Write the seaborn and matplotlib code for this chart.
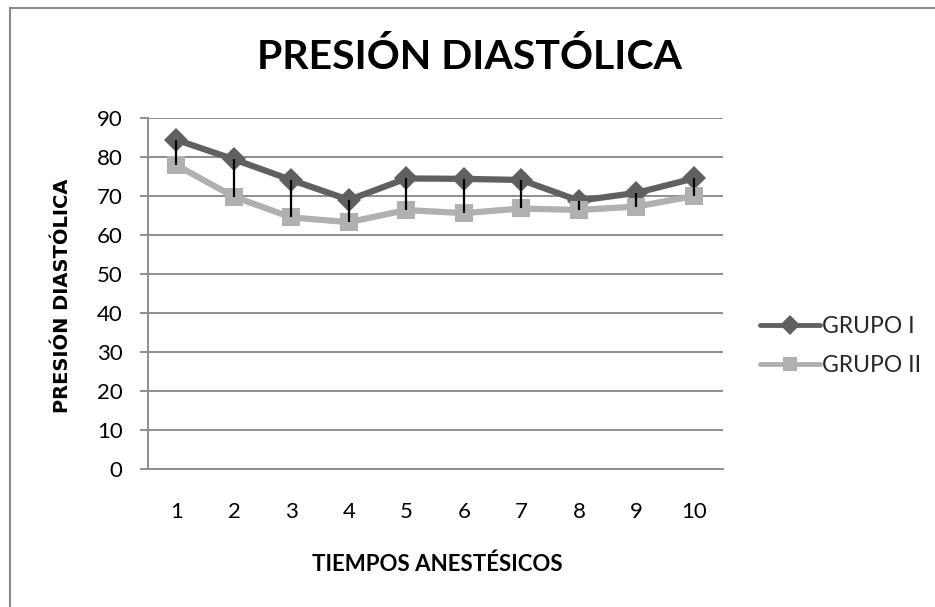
import matplotlib
matplotlib.use("Agg")
import matplotlib.pyplot as plt
import seaborn as sns
import pandas as pd
from matplotlib.patches import Rectangle

tiempos = ["1", "2", "3", "4", "5", "6", "7", "8", "9", "10"]
grupo_1 = [84.4, 79.4, 74.1, 69.0, 74.5, 74.4, 74.1, 68.8, 70.8, 74.5]
grupo_2 = [77.9, 69.8, 64.5, 63.3, 66.4, 65.6, 66.8, 66.4, 67.3, 70.0]
y_ticks = [0, 10, 20, 30, 40, 50, 60, 70, 80, 90]

sns.set_theme(style="white")
plt.rcParams['font.family'] = ['Lato', 'DejaVu Sans']

fig = plt.figure(figsize=(9.35, 6.07), dpi=100)
ax = fig.add_axes([147.7/935, 1-469/607, 575/935, 351/607])

pos = list(range(len(tiempos)))
df = pd.DataFrame({
    "pos": pos * 2,
    "valor": grupo_1 + grupo_2,
    "grupo": ["GRUPO I"] * len(pos) + ["GRUPO II"] * len(pos),
})

palette = {"GRUPO I": "#606060", "GRUPO II": "#b0b0b0"}
markers = {"GRUPO I": "D", "GRUPO II": "s"}
for g in ["GRUPO I", "GRUPO II"]:
    sub = df[df["grupo"] == g]
    sns.lineplot(data=sub, x="pos", y="valor", ax=ax, color=palette[g],
                 marker=markers[g], markersize=13 if g == "GRUPO II" else 12,
                 markeredgewidth=0, linewidth=4.5, label=g, zorder=3)

# high-low lines
ax.vlines(pos, grupo_2, grupo_1, colors="black", linewidth=1.6, zorder=5)

ax.set_xlim(-0.5, len(tiempos) - 0.5)
ax.set_ylim(0, 90)
ax.set_xticks(pos)
ax.set_xticklabels(tiempos)
ax.set_yticks(y_ticks)
ax.grid(axis="y", color="#8e8e8e", linewidth=1.4)
ax.set_axisbelow(True)
for s in ["top", "right"]:
    ax.spines[s].set_visible(False)
for s in ["left", "bottom"]:
    ax.spines[s].set_color("#8e8e8e")
    ax.spines[s].set_linewidth(1.4)
ax.tick_params(axis="y", left=True, length=6, width=1.4, color="#8e8e8e",
               pad=12, labelsize=16, labelcolor="black")
ax.tick_params(axis="x", bottom=False, length=0, pad=24, labelsize=16,
               labelcolor="black")
ax.set_xlabel("")
ax.set_ylabel("")

fig.text(0.502, 1 - 57/607, "PRESIÓN DIASTÓLICA", ha="center", va="center",
         fontsize=29.5, fontweight="bold", color="black")
fig.text(62/935, 1 - 296/607, "PRESIÓN DIASTÓLICA", ha="center", va="center",
         rotation=90, fontsize=14, fontweight="bold", color="black",
         family=["DejaVu Sans"])
fig.text(437/935, 1 - 564/607, "TIEMPOS ANESTÉSICOS", ha="center", va="center",
         fontsize=16, fontweight="bold", color="black")

leg = ax.legend(loc="center left", bbox_to_anchor=(760/935, 1 - 346/607),
                bbox_transform=fig.transFigure, frameon=False, fontsize=16.5,
                handlelength=2.6, handletextpad=0.1, labelspacing=0.8,
                borderaxespad=0, borderpad=0)
for ln in leg.get_lines():
    ln.set_linewidth(3.5)
    ln.set_markersize(10)

fig.patches.append(Rectangle((9.5/935, -0.05), 2, 1 - 7.5/607 + 0.05,
                             transform=fig.transFigure, fill=False,
                             edgecolor="#8a8a8a", linewidth=1.5))

fig.savefig("out.png", dpi=100, facecolor="white")
